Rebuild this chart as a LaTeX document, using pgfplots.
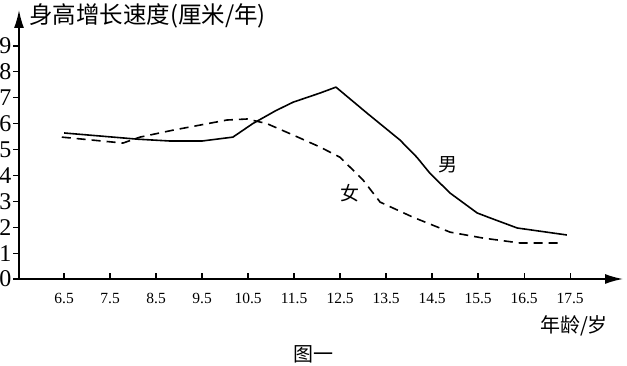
\documentclass[border=0pt]{standalone}
\usepackage{pgfplots}
\pgfplotsset{compat=1.18}
\usepackage{fontspec}
\setmainfont{Liberation Serif}
\newfontfamily\cjk{Noto Sans CJK SC}
\usetikzlibrary{arrows.meta}
\begin{document}
\begin{tikzpicture}
\path[use as bounding box] (0,0) rectangle (627pt,366pt);
\begin{axis}[
  at={(19pt,87pt)}, anchor=south west,
  scale only axis, width=604pt, height=269pt,
  xmin=5.52, xmax=18.65, ymin=0, ymax=10.39,
  axis x line=bottom, axis y line=left, clip=false,
  axis line style={draw=none},
  xtick={6.5,7.5,8.5,9.5,10.5,11.5,12.5,13.5,14.5,15.5,16.5,17.5},
  xticklabels={6.5,7.5,8.5,9.5,10.5,11.5,12.5,13.5,14.5,15.5,16.5,17.5},
  ytick={0,1,2,3,4,5,6,7,8,9},
  yticklabels={0,1,2,3,4,5,6,7,8,9},
  xtick align=inside, ytick align=outside,
  major tick length=6pt,
  tick style={line width=1.2pt, black},
  xticklabel style={font=\fontsize{15.5}{15.5}\selectfont, yshift=-11pt},
  yticklabel style={font=\fontsize{24}{24}\selectfont, xshift=2pt},
]
\draw[line width=1.6pt, -{Latex[length=18pt,width=10pt]}] (axis cs:5.52,0) -- (axis cs:18.65,0);
\draw[line width=1.6pt, -{Latex[length=18pt,width=10pt]}] (axis cs:5.52,0) -- (axis cs:5.52,10.39);
% male
\addplot[black, line width=1.6pt, line join=round] coordinates {
(6.5,5.64) (8.1,5.4) (8.8,5.33) (9.5,5.33) (10.17,5.48) (10.6,6.0) (11.1,6.5) (11.48,6.83) (12.06,7.18) (12.41,7.41) (13.09,6.4) (13.8,5.37) (14.17,4.7) (14.45,4.09) (14.89,3.32) (15.48,2.55) (15.76,2.36) (16.35,1.97) (17.43,1.7)
};
% female
\addplot[black, line width=1.6pt, dash pattern=on 9pt off 6pt] coordinates {
(6.45,5.48) (7.78,5.25) (8.15,5.48) (8.87,5.75) (10.04,6.14) (10.48,6.18) (10.91,6.0) (11.48,5.56) (12.06,5.1) (12.5,4.7) (13.0,3.82) (13.37,2.97) (14.08,2.39) (14.89,1.81) (15.61,1.58) (16.41,1.39) (17.35,1.39)
};
\node[font=\cjk\fontsize{19}{19}\selectfont] at (axis cs:14.85,4.4) {男};
\node[font=\cjk\fontsize{19}{19}\selectfont] at (axis cs:12.72,3.32) {女};
\end{axis}
\node[anchor=west, font=\cjk\fontsize{23.5}{23.5}\selectfont, inner sep=0pt] at (29pt,350pt) {身高增长速度(厘米/年)};
\node[font=\cjk\fontsize{20}{20}\selectfont, inner sep=0pt] at (574pt,40pt) {年龄/岁};
\node[font=\cjk\fontsize{20}{20}\selectfont, inner sep=0pt] at (313pt,12pt) {图一};
\end{tikzpicture}
\end{document}
